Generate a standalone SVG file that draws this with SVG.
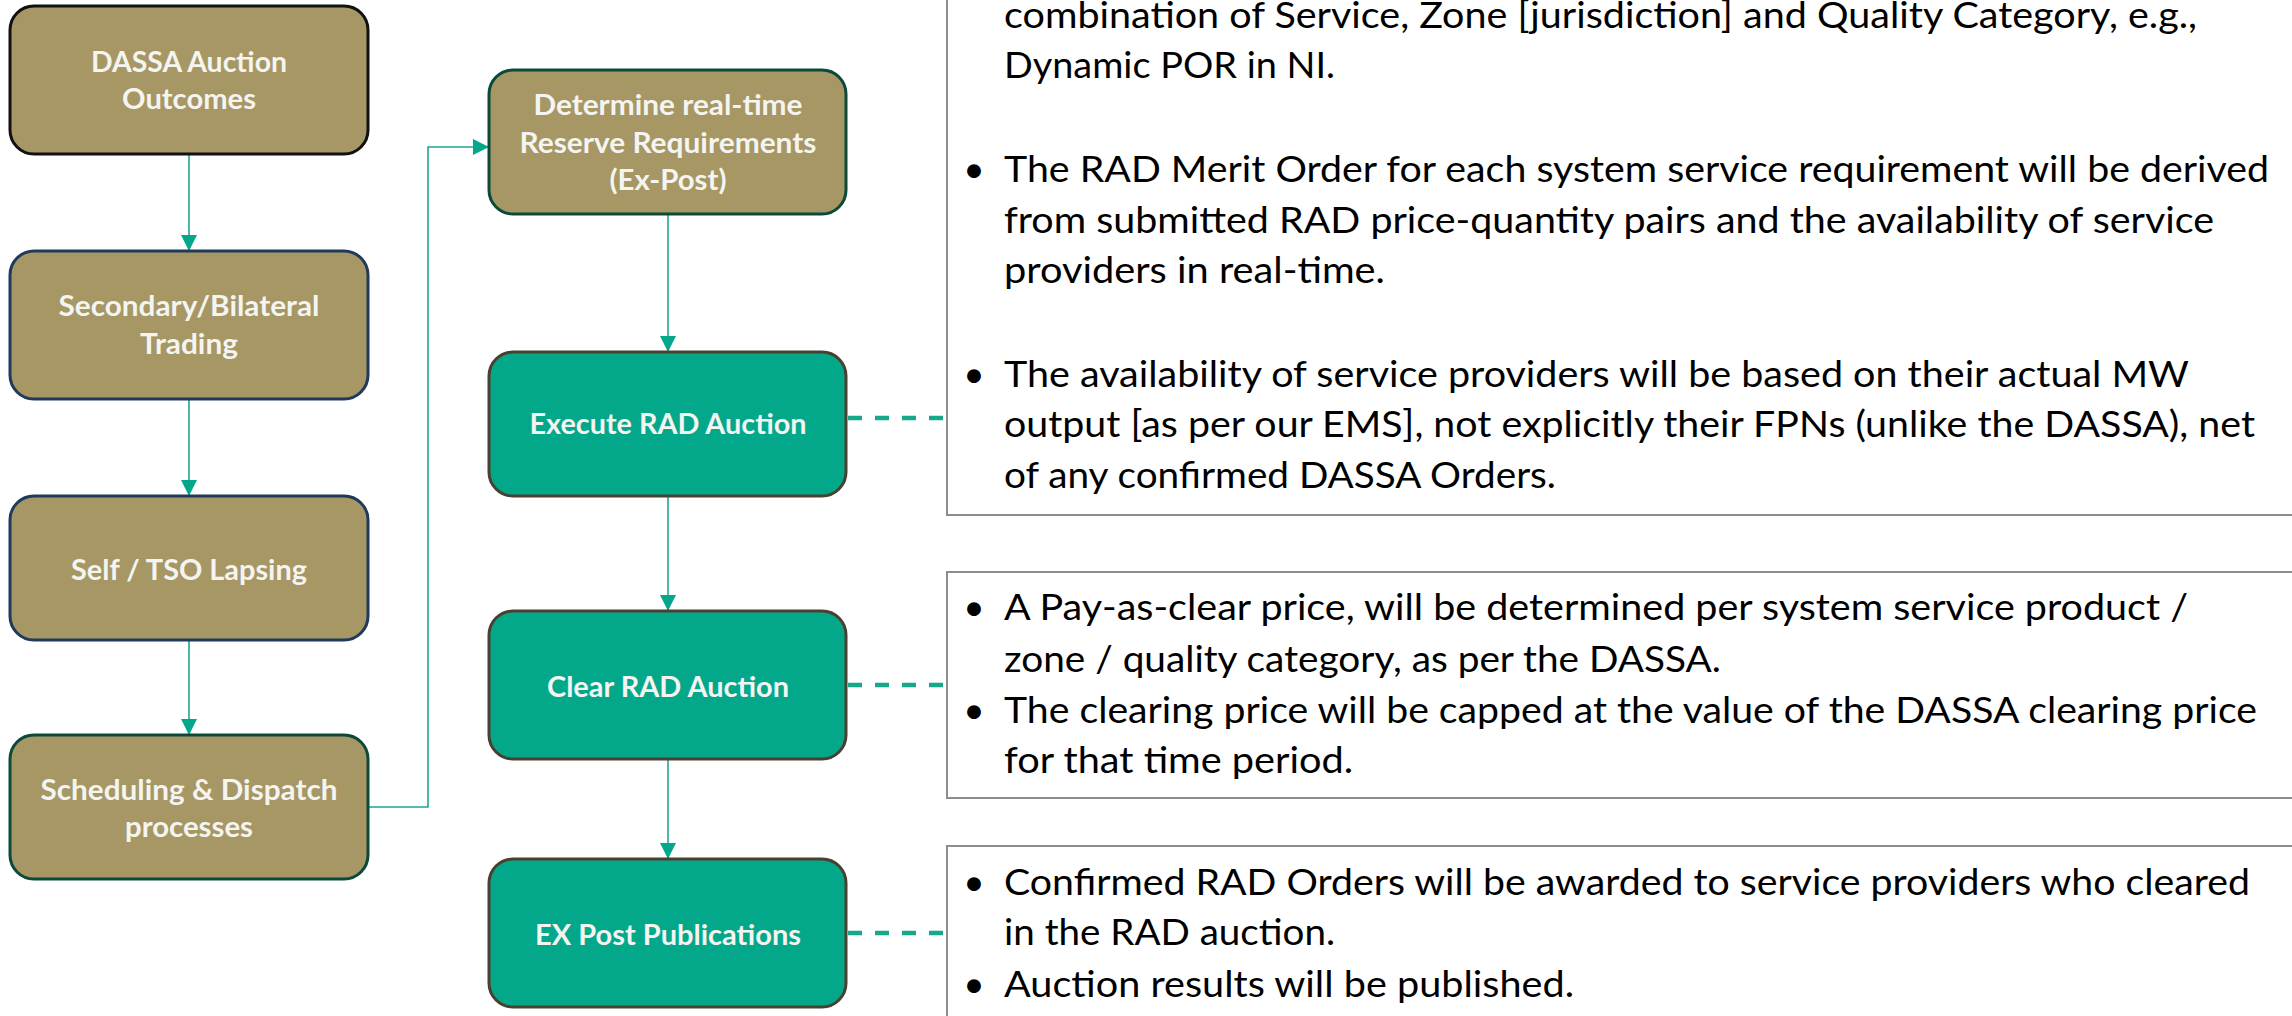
<svg xmlns="http://www.w3.org/2000/svg" width="2292" height="1016" viewBox="0 0 2292 1016">
<style>
.olive{fill:#A69765;stroke-width:3}
.teal{fill:#03A88B;stroke:#4A4030;stroke-width:3}
.lbl{font-family:Lato,"Liberation Sans",sans-serif;font-weight:bold;font-size:28px;fill:#F4F4F0;text-anchor:middle}
.body{font-family:Lato,"Liberation Sans",sans-serif;font-size:37px;fill:#000}
.bul{font-family:Lato,"Liberation Sans",sans-serif;font-size:37px;fill:#000;text-anchor:middle}
.note{fill:#fff;stroke:#8C8C8C;stroke-width:2}
.conn{fill:none;stroke:#1FA68F;stroke-width:1.6}
.dash{fill:none;stroke:#17A88C;stroke-width:4.5;stroke-dasharray:14 13}
</style>
<defs>
<marker id="ah" viewBox="0 0 10 10" refX="10" refY="5" markerUnits="userSpaceOnUse" markerWidth="16" markerHeight="16" orient="auto">
<path d="M0,0 L10,5 L0,10 z" fill="#03A88B"/>
</marker>
</defs>
<rect width="2292" height="1016" fill="#fff"/>

<g id="note-execute">
<rect class="note" x="947" y="-20" width="1400" height="535"/>
<text class="body" x="1004" y="28" textLength="1193" lengthAdjust="spacingAndGlyphs">combination of Service, Zone [jurisdiction] and Quality Category, e.g.,</text>
<text class="body" x="1004" y="78" textLength="331" lengthAdjust="spacingAndGlyphs">Dynamic POR in NI.</text>
<text class="bul" x="974" y="182">•</text>
<text class="body" x="1004" y="182" textLength="1265" lengthAdjust="spacingAndGlyphs">The RAD Merit Order for each system service requirement will be derived</text>
<text class="body" x="1004" y="233" textLength="1210" lengthAdjust="spacingAndGlyphs">from submitted RAD price-quantity pairs and the availability of service</text>
<text class="body" x="1004" y="283" textLength="381" lengthAdjust="spacingAndGlyphs">providers in real-time.</text>
<text class="bul" x="974" y="387">•</text>
<text class="body" x="1004" y="387" textLength="1185" lengthAdjust="spacingAndGlyphs">The availability of service providers will be based on their actual MW</text>
<text class="body" x="1004" y="437" textLength="1251" lengthAdjust="spacingAndGlyphs">output [as per our EMS], not explicitly their FPNs (unlike the DASSA), net</text>
<text class="body" x="1004" y="488" textLength="552" lengthAdjust="spacingAndGlyphs">of any confirmed DASSA Orders.</text>
</g>

<g id="note-clear">
<rect class="note" x="947" y="572" width="1400" height="226"/>
<text class="bul" x="974" y="620">•</text>
<text class="body" x="1004" y="620" textLength="1184" lengthAdjust="spacingAndGlyphs">A Pay-as-clear price, will be determined per system service product /</text>
<text class="body" x="1004" y="672" textLength="717" lengthAdjust="spacingAndGlyphs">zone / quality category, as per the DASSA.</text>
<text class="bul" x="974" y="723">•</text>
<text class="body" x="1004" y="723" textLength="1253" lengthAdjust="spacingAndGlyphs">The clearing price will be capped at the value of the DASSA clearing price</text>
<text class="body" x="1004" y="773" textLength="349" lengthAdjust="spacingAndGlyphs">for that time period.</text>
</g>

<g id="note-publish">
<rect class="note" x="947" y="846" width="1400" height="200"/>
<text class="bul" x="974" y="895">•</text>
<text class="body" x="1004" y="895" textLength="1246" lengthAdjust="spacingAndGlyphs">Confirmed RAD Orders will be awarded to service providers who cleared</text>
<text class="body" x="1004" y="945" textLength="331" lengthAdjust="spacingAndGlyphs">in the RAD auction.</text>
<text class="bul" x="974" y="997">•</text>
<text class="body" x="1004" y="997" textLength="570" lengthAdjust="spacingAndGlyphs">Auction results will be published.</text>
</g>

<g id="connectors">
<line class="conn" x1="189" y1="154" x2="189" y2="251" marker-end="url(#ah)"/>
<line class="conn" x1="189" y1="399" x2="189" y2="496" marker-end="url(#ah)"/>
<line class="conn" x1="189" y1="640" x2="189" y2="735" marker-end="url(#ah)"/>
<polyline class="conn" points="368,807 428,807 428,147 489,147" marker-end="url(#ah)"/>
<line class="conn" x1="668" y1="198" x2="668" y2="352" marker-end="url(#ah)"/>
<line class="conn" x1="668" y1="496" x2="668" y2="611" marker-end="url(#ah)"/>
<line class="conn" x1="668" y1="759" x2="668" y2="859" marker-end="url(#ah)"/>
<line class="dash" x1="848" y1="418" x2="947" y2="418"/>
<line class="dash" x1="848" y1="685" x2="947" y2="685"/>
<line class="dash" x1="848" y1="933" x2="947" y2="933"/>
</g>

<g id="dassa-outcomes">
<rect class="olive" x="10" y="6" width="358" height="148" rx="24" stroke="#111"/>
<text class="lbl" x="189" y="72" textLength="196" lengthAdjust="spacingAndGlyphs">DASSA Auction</text>
<text class="lbl" x="189" y="109" textLength="134" lengthAdjust="spacingAndGlyphs">Outcomes</text>
</g>
<g id="secondary-trading">
<rect class="olive" x="10" y="251" width="358" height="148" rx="24" stroke="#1F3A5A"/>
<text class="lbl" x="189" y="316" textLength="261" lengthAdjust="spacingAndGlyphs">Secondary/Bilateral</text>
<text class="lbl" x="189" y="354" textLength="98" lengthAdjust="spacingAndGlyphs">Trading</text>
</g>
<g id="lapsing">
<rect class="olive" x="10" y="496" width="358" height="144" rx="24" stroke="#1F3A5A"/>
<text class="lbl" x="189" y="580" textLength="236" lengthAdjust="spacingAndGlyphs">Self / TSO Lapsing</text>
</g>
<g id="scheduling">
<rect class="olive" x="10" y="735" width="358" height="144" rx="24" stroke="#0B4A3A"/>
<text class="lbl" x="189" y="800" textLength="297" lengthAdjust="spacingAndGlyphs">Scheduling &amp; Dispatch</text>
<text class="lbl" x="189" y="837" textLength="128" lengthAdjust="spacingAndGlyphs">processes</text>
</g>
<g id="determine-reserve">
<rect class="olive" x="489" y="70" width="357" height="144" rx="24" stroke="#0B4A3A"/>
<text class="lbl" x="668" y="115" textLength="269" lengthAdjust="spacingAndGlyphs">Determine real-time</text>
<text class="lbl" x="668" y="153" textLength="297" lengthAdjust="spacingAndGlyphs">Reserve Requirements</text>
<text class="lbl" x="668" y="190" textLength="117" lengthAdjust="spacingAndGlyphs">(Ex-Post)</text>
</g>
<g id="execute-rad">
<rect class="teal" x="489" y="352" width="357" height="144" rx="24"/>
<text class="lbl" x="668" y="434" textLength="277" lengthAdjust="spacingAndGlyphs">Execute RAD Auction</text>
</g>
<g id="clear-rad">
<rect class="teal" x="489" y="611" width="357" height="148" rx="24"/>
<text class="lbl" x="668" y="697" textLength="242" lengthAdjust="spacingAndGlyphs">Clear RAD Auction</text>
</g>
<g id="ex-post">
<rect class="teal" x="489" y="859" width="357" height="148" rx="24"/>
<text class="lbl" x="668" y="945" textLength="266" lengthAdjust="spacingAndGlyphs">EX Post Publications</text>
</g>
</svg>
